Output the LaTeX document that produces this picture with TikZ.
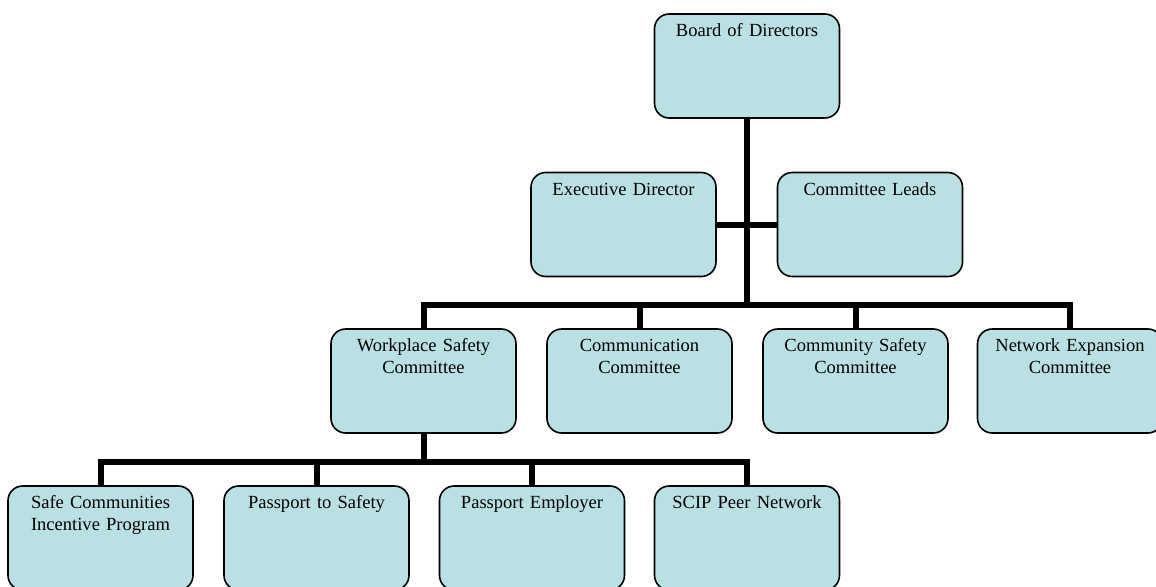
\documentclass[tikz,border=0pt]{standalone}
\usepackage{fontspec}
\setmainfont{Liberation Serif}
\definecolor{boxfill}{RGB}{185,224,227}

\begin{document}
\begin{tikzpicture}[x=0.75pt, y=-0.75pt,
        unit/.style={draw, line width=1.2pt, fill=boxfill, rounded corners=11pt,
            inner sep=0pt, text width=138.75pt, align=center,
            text height=17pt, text depth=61pt,
            font=\fontsize{13.9}{16.3}\selectfont},
        link/.style={line width=4.5pt}]
            \useasboundingbox (0, 0) rectangle (1156, 586);
            \clip (0, 0) rectangle (1156, 586);

            % top
            \node[unit] (board) at (747, 66) {Board of Directors};
            \node[unit] (exec) at (623.5, 224.5) {Executive Director};
            \node[unit] (leads) at (870, 224.5) {Committee Leads};

            % committees
            \node[unit] (wsc) at (423.5, 381) {Workplace Safety\\Committee};
            \node[unit] (comm) at (639.5, 381) {Communication\\Committee};
            \node[unit] (csc) at (855.5, 381) {Community Safety\\Committee};
            \node[unit] (nec) at (1070, 381) {Network Expansion\\Committee};

            % programs
            \node[unit] (scip) at (100.5, 538) {Safe Communities\\Incentive Program};
            \node[unit] (pts) at (316.5, 538) {Passport to Safety};
            \node[unit] (pemp) at (532, 538) {Passport Employer};
            \node[unit] (peer) at (747, 538) {SCIP Peer Network};

            \coordinate (upper) at (747, 304.5);
            \coordinate (lower) at (423.5, 462);

            \draw[link] (board.south) -- (upper);
            \draw[link] (exec.east) -- (leads.west);
            \draw[link] (wsc.north) |- (upper);
            \draw[link] (nec.north) |- (upper);
            \draw[link] (comm.north) -- (comm.north |- upper);
            \draw[link] (csc.north) -- (csc.north |- upper);

            \draw[link] (wsc.south) -- (lower);
            \draw[link] (scip.north) |- (lower);
            \draw[link] (peer.north) |- (lower);
            \draw[link] (pts.north) -- (pts.north |- lower);
            \draw[link] (pemp.north) -- (pemp.north |- lower);
        \end{tikzpicture}
\end{document}
